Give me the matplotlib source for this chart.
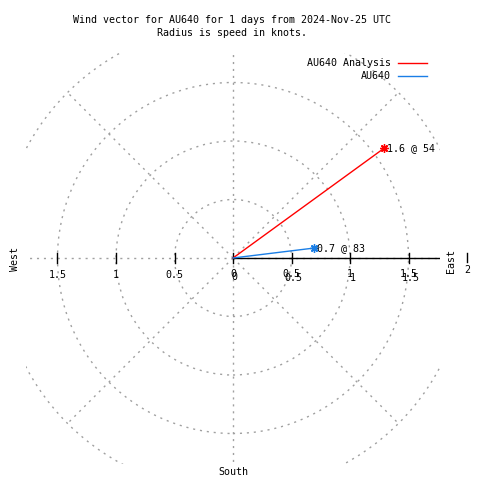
import numpy as np
import matplotlib.pyplot as plt
from matplotlib.patches import Circle

# wind data: speed (knots) and direction (degrees from north)
names = ['AU640 Analysis', 'AU640']
speeds = [1.6, 0.7]
directions = [54, 83]
colors = ['#ff0000', '#1a7ee6']

rings = [0.5, 1.0, 1.5, 2.0]
spokes = [0, 45, 90, 135, 180, 225, 270, 315]
tick_vals = [0.5, 1.0, 1.5]
tick_labels = ['0.5', '1', '1.5']

grid_col = '#a0a0a0'
mono = 'DejaVu Sans Mono'
fs = 7.2

fig = plt.figure(figsize=(4.8, 4.8), dpi=100)
# plot box in pixels: x 26..440, y 53..464, origin at (233, 258), 117 px per knot
ax = fig.add_axes([26 / 480, 16 / 480, 414 / 480, 411 / 480])
ax.set_xlim(-207 / 117, 207 / 117)
ax.set_ylim(-206 / 117, 205 / 117)
ax.axis('off')

dots = (0, (1.5, 3.5))

# polar grid: rings and spokes out to r = 2
for r in rings:
    ax.add_patch(Circle((0, 0), r, fill=False, ec=grid_col, lw=1, ls=dots))
for a in spokes:
    ax.plot([0, 2 * np.sin(np.radians(a))], [0, 2 * np.cos(np.radians(a))],
            color=grid_col, lw=1, ls=dots)

# east axis line
ax.plot([0, 3], [0, 0], color='black', lw=1)
tk = 0.04
ax.plot([0, 0], [-tk, tk], color='black', lw=1)
for v in tick_vals:
    ax.plot([v, v], [-tk, tk], color='black', lw=1)
    ax.plot([-v, -v], [-tk, tk], color='black', lw=1)

# tick labels (two overlapping sets on the east side, as in the original)
ax.text(0, -0.14, '0', fontsize=fs, family=mono, ha='center', va='center')
ax.text(0.01, -0.165, '0', fontsize=fs, family=mono, ha='center', va='center')
for v, lab in zip(tick_vals, tick_labels):
    ax.text(-v, -0.145, lab, fontsize=fs, family=mono, ha='center', va='center')
    ax.text(v, -0.14, lab, fontsize=fs, family=mono, ha='center', va='center')
    ax.text(v + 0.02, -0.17, lab, fontsize=fs, family=mono, ha='center', va='center')

# r = 2 tick outside the box
ax.plot([2, 2], [-0.034, 0.043], color='black', lw=1, clip_on=False)
ax.text(2, -0.105, '2', fontsize=fs, family=mono, ha='center', va='center')

# compass labels
ax.text(-1.86, -0.01, 'West', fontsize=fs, family=mono, rotation=90,
        ha='center', va='center')
ax.text(1.86, -0.025, 'East', fontsize=fs, family=mono, rotation=90,
        ha='center', va='center')
ax.text(0, -1.83, 'South', fontsize=fs, family=mono, ha='center', va='center')

# wind vectors
for name, s, d, c in zip(names, speeds, directions, colors):
    x = s * np.sin(np.radians(d))
    y = s * np.cos(np.radians(d))
    ax.plot([0, x], [0, y], color=c, lw=1)
    ax.plot([x], [y], color=c, marker=(8, 2, 0), ms=6, mew=1, ls='none')
    ax.text(x + 0.02, y, f'{s:g} @ {d}', fontsize=fs, family=mono,
            ha='left', va='center')

# legend
leg_y = [63, 76]
for name, c, py in zip(names, colors, leg_y):
    fig.text(391 / 480, 1 - py / 480, name, fontsize=fs, family=mono,
             ha='right', va='center')
    fig.add_artist(plt.Line2D([398 / 480, 427 / 480],
                              [1 - py / 480, 1 - py / 480],
                              color=c, lw=1))

fig.text(232 / 480, 1 - 20 / 480,
         'Wind vector for AU640 for 1 days from 2024-Nov-25 UTC',
         fontsize=fs, family=mono, ha='center', va='center')
fig.text(232 / 480, 1 - 33 / 480, 'Radius is speed in knots.',
         fontsize=fs, family=mono, ha='center', va='center')

fig.savefig('out.png', dpi=100)
